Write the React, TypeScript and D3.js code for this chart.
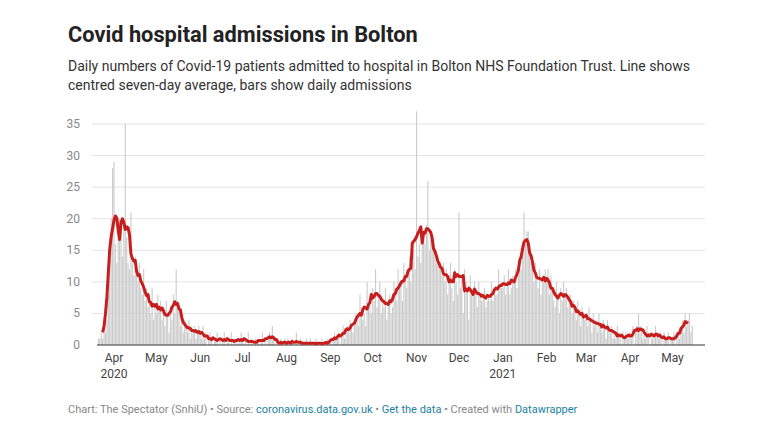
import React, { useEffect, useRef } from 'react'
import * as d3 from 'd3'

const startDate = new Date(2020, 2, 21)

const mar20 = [1, 1, 2, 1, 3, 2, 4, 8, 15, 20, 28]
const apr20 = [29, 16, 13, 17, 20, 18, 14, 19, 35, 17, 13, 12, 21, 13, 11, 14, 12, 10, 13, 9, 8, 12, 7, 9, 6, 8, 5, 9, 4, 6]
const may20 = [5, 8, 6, 7, 4, 6, 3, 7, 5, 2, 6, 4, 8, 5, 12, 7, 6, 3, 5, 2, 4, 3, 2, 4, 1, 3, 2, 3, 1, 2, 3]
const jun20 = [2, 1, 3, 1, 2, 0, 1, 2, 1, 0, 1, 1, 2, 0, 1, 0, 1, 2, 0, 1, 1, 0, 2, 0, 1, 0, 1, 0, 1, 2]
const jul20 = [1, 0, 1, 0, 2, 0, 1, 0, 0, 1, 0, 1, 0, 1, 2, 0, 1, 0, 1, 2, 1, 3, 1, 0, 1, 0, 0, 1, 0, 0, 1]
const aug20 = [0, 1, 0, 0, 1, 0, 0, 2, 0, 0, 1, 0, 0, 0, 1, 0, 0, 1, 0, 0, 0, 1, 0, 0, 0, 1, 0, 0, 0, 1, 0]
const sep20 = [1, 0, 1, 2, 1, 1, 2, 0, 2, 3, 1, 2, 3, 2, 4, 3, 2, 3, 5, 4, 3, 8, 6, 4, 5, 3, 10, 6, 7, 5]
const oct20 = [9, 7, 12, 6, 8, 10, 5, 7, 6, 9, 4, 7, 8, 5, 6, 10, 8, 7, 12, 9, 10, 7, 13, 11, 9, 12, 14, 10, 13, 15, 12]
const nov20 = [37, 14, 16, 13, 17, 18, 16, 19, 26, 15, 18, 17, 16, 14, 13, 14, 12, 13, 11, 13, 10, 12, 8, 11, 13, 9, 7, 12, 10, 8]
const dec20 = [21, 9, 11, 5, 12, 10, 9, 4, 11, 9, 8, 10, 8, 6, 10, 8, 7, 8, 9, 6, 7, 8, 7, 10, 7, 9, 8, 8, 12, 9, 9]
const jan21 = [9, 11, 8, 10, 12, 8, 9, 11, 10, 12, 9, 11, 13, 12, 16, 21, 16, 18, 18, 15, 13, 12, 10, 13, 11, 9, 12, 8, 11, 10, 12]
const feb21 = [10, 12, 8, 11, 9, 7, 6, 10, 8, 5, 9, 7, 10, 8, 9, 6, 7, 8, 5, 7, 6, 4, 7, 5, 3, 6, 5, 4]
const mar21 = [5, 3, 6, 4, 2, 5, 3, 4, 2, 5, 3, 2, 4, 3, 1, 4, 3, 2, 3, 1, 2, 1, 3, 2, 1, 0, 2, 1, 2, 1, 1]
const apr21 = [2, 1, 3, 0, 2, 3, 5, 2, 3, 1, 2, 1, 3, 2, 0, 1, 2, 1, 3, 2, 1, 2, 1, 0, 2, 1, 1, 2, 0, 1]
const may21 = [1, 2, 0, 1, 2, 1, 3, 4, 2, 5, 3, 4, 5, 2, 3]

const yTicks = [0, 5, 10, 15, 20, 25, 30, 35]

const W = 768
const H = 442
const margin = { left: 97, right: 705, top: 124, bottom: 345 }

const App = () => {
  const chart = useRef(null)

  useEffect(() => {
    const values = [...mar20, ...apr20, ...may20, ...jun20, ...jul20, ...aug20, ...sep20, ...oct20, ...nov20, ...dec20, ...jan21, ...feb21, ...mar21, ...apr21, ...may21]
    const data = values.map((v, i) => ({ date: d3.timeDay.offset(startDate, i), value: v }))
    // centred seven-day average
    const avg = data.slice(3, data.length - 3).map((d, i) => ({
      date: d.date,
      value: d3.mean(data.slice(i, i + 7), e => e.value),
    }))

    const x = d3.scaleTime().domain([d3.timeDay.offset(startDate, -1), new Date(2021, 4, 24)]).range([margin.left, margin.right])
    const y = d3.scaleLinear().domain([0, 35]).range([margin.bottom, margin.top])
    const bw = x(new Date(2020, 5, 2)) - x(new Date(2020, 5, 1))

    const g = d3.select(chart.current)
    g.selectAll('*').remove()

    g.selectAll('.grid').data(yTicks.slice(1)).enter().append('line')
      .attr('x1', margin.left - 5).attr('x2', margin.right)
      .attr('y1', d => y(d)).attr('y2', d => y(d))
      .attr('stroke', '#e4e4e4').attr('stroke-width', 1)
    g.selectAll('.ylab').data(yTicks).enter().append('text')
      .attr('x', 80).attr('y', d => y(d) + 4)
      .attr('text-anchor', 'end').attr('font-size', 12).attr('fill', '#888')
      .text(d => d)

    g.selectAll('rect').data(data).enter().append('rect')
      .attr('x', d => x(d.date) - bw / 2 + 0.15)
      .attr('y', d => y(d.value))
      .attr('width', bw - 0.3)
      .attr('height', d => y(0) - y(d.value))
      .attr('fill', '#cbcbcb')

    g.append('line').attr('x1', margin.left).attr('x2', margin.right)
      .attr('y1', y(0)).attr('y2', y(0)).attr('stroke', '#333').attr('stroke-width', 1.2)

    const line = d3.line<{ date: Date; value: number }>().x(d => x(d.date)).y(d => y(d.value))
    g.append('path').datum(avg).attr('d', line).attr('fill', 'none')
      .attr('stroke', '#c71e1d').attr('stroke-width', 3).attr('stroke-linejoin', 'round')

    const months = d3.timeMonth.range(new Date(2020, 3, 1), new Date(2021, 5, 1))
    const fmt = d3.timeFormat('%b')
    g.selectAll('.xlab').data(months).enter().append('text')
      .attr('x', d => x(d)).attr('y', 362)
      .attr('text-anchor', 'middle').attr('font-size', 12).attr('fill', '#444')
      .text(d => fmt(d))
    g.selectAll('.year').data([new Date(2020, 3, 1), new Date(2021, 0, 1)]).enter().append('text')
      .attr('x', d => x(d)).attr('y', 378)
      .attr('text-anchor', 'middle').attr('font-size', 12).attr('fill', '#444')
      .text(d => d.getFullYear())
  }, [])

  return (
    <svg width={W} height={H} style={{ position: 'absolute', left: 0, top: 0, fontFamily: 'Roboto, sans-serif', background: '#fff' }}>
      <text x={68} y={42} fontSize={21.8} fontWeight="bold" fill="#222">Covid hospital admissions in Bolton</text>
      <text x={68} y={71} fontSize={14} fill="#333">Daily numbers of Covid-19 patients admitted to hospital in Bolton NHS Foundation Trust. Line shows</text>
      <text x={68} y={90} fontSize={14} fill="#333">centred seven-day average, bars show daily admissions</text>
      <g ref={chart}></g>
      <text x={68} y={413} fontSize={11} fill="#888">
        Chart: The Spectator (SnhiU) • Source: <tspan fill="#1d81a2">coronavirus.data.gov.uk</tspan> • <tspan fill="#1d81a2">Get the data</tspan> • Created with <tspan fill="#1d81a2">Datawrapper</tspan>
      </text>
    </svg>
  )
}

export default App
